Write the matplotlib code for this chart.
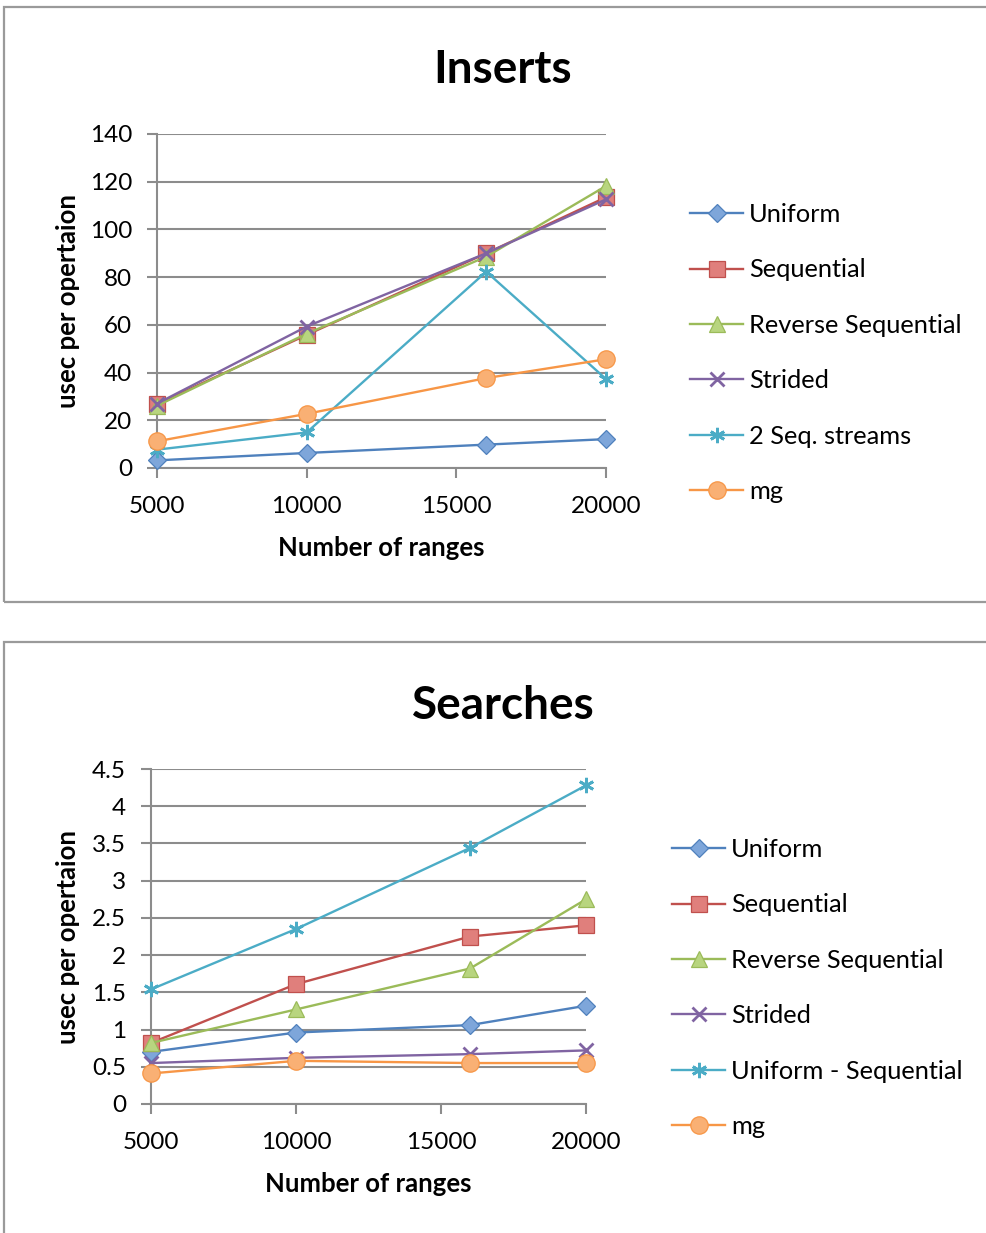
import matplotlib
matplotlib.use("Agg")
import matplotlib.pyplot as plt
from matplotlib.patches import Rectangle

# ---- data -------------------------------------------------------------
ranges = [5000, 10000, 16000, 20000]
x_ticks = [5000, 10000, 15000, 20000]

insert_uniform = [3.2, 6.3, 9.8, 12.1]
insert_sequential = [26.8, 55.8, 90.0, 113.5]
insert_reverse_seq = [26.1, 56.3, 88.6, 118.2]
insert_strided = [27.0, 59.3, 90.0, 112.6]
insert_two_streams = [7.7, 14.9, 82.3, 37.3]
insert_mg = [11.2, 22.7, 37.7, 45.6]

search_uniform = [0.70, 0.96, 1.06, 1.32]
search_sequential = [0.82, 1.61, 2.25, 2.40]
search_reverse_seq = [0.82, 1.27, 1.82, 2.75]
search_strided = [0.55, 0.62, 0.67, 0.72]
search_uniform_minus_seq = [1.54, 2.35, 3.44, 4.28]
search_mg = [0.41, 0.58, 0.55, 0.55]

insert_labels = ["Uniform", "Sequential", "Reverse Sequential", "Strided",
                 "2 Seq. streams", "mg"]
search_labels = ["Uniform", "Sequential", "Reverse Sequential", "Strided",
                 "Uniform - Sequential", "mg"]

insert_yticks = [0, 20, 40, 60, 80, 100, 120, 140]
search_yticks = [0, 0.5, 1, 1.5, 2, 2.5, 3, 3.5, 4, 4.5]
search_yticklabels = ["0", "0.5", "1", "1.5", "2", "2.5", "3", "3.5", "4", "4.5"]

# ---- styling ----------------------------------------------------------
plt.rcParams["font.family"] = ["Lato", "DejaVu Sans"]

W, H = 986, 1233
DPI = 100
GRID = "#8c8c8c"
FRAME = "#9a9a9a"

# (line colour, marker face, marker, size)
styles = [
    ("#4F81BD", "#7EA6DA", "D", 9.5),
    ("#C0504D", "#E07F7C", "s", 11),
    ("#9BBB59", "#B8D57F", "^", 11.5),
    ("#8064A2", "#A58BC6", "x", 10),
    ("#4BACC6", "#86CDE0", (6, 2, 0), 11),
    ("#F79646", "#F9B074", "o", 12.5),
]

fig = plt.figure(figsize=(W / DPI, H / DPI), dpi=DPI)


def px_axes(left, top, right, bottom):
    return fig.add_axes([left / W, 1 - bottom / H, (right - left) / W,
                         (bottom - top) / H])


def frame(left, top, right, bottom):
    fig.patches.append(Rectangle((left / W, 1 - bottom / H),
                                 (right - left) / W, (bottom - top) / H,
                                 transform=fig.transFigure, fill=False,
                                 edgecolor=FRAME, linewidth=1.6, zorder=0))


def draw_chart(ax, series, labels, yticks, yticklabels, ylim, title,
               title_xy, legend_xy, xlabel_top, ylabel_right):
    for vals, lab, (col, face, mk, ms) in zip(series, labels, styles):
        lw_mk = 2.0 if mk in ("x",) or isinstance(mk, tuple) else 0.9
        ax.plot(ranges, vals, color=col, linewidth=1.7, marker=mk,
                markersize=ms, markerfacecolor=face,
                markeredgecolor=col, markeredgewidth=lw_mk, label=lab,
                clip_on=False, zorder=3)
    ax.set_xlim(5000, 20000)
    ax.set_ylim(*ylim)
    ax.set_xticks(x_ticks)
    ax.set_xticklabels([str(t) for t in x_ticks])
    ax.set_yticks(yticks)
    ax.set_yticklabels(yticklabels)
    ax.grid(axis="y", color=GRID, linewidth=1.5)
    ax.set_axisbelow(True)
    for s in ("top", "right"):
        ax.spines[s].set_visible(False)
    for s in ("left", "bottom"):
        ax.spines[s].set_color(GRID)
        ax.spines[s].set_linewidth(1.5)
    ax.tick_params(axis="both", colors=GRID, width=1.5, length=7,
                   labelsize=17.5, labelcolor="black")
    ax.tick_params(axis="y", pad=11)
    ax.tick_params(axis="x", pad=13)
    ax.set_xlabel("Number of ranges", fontsize=18.5, fontweight="bold")
    ax.set_ylabel("usec per opertaion", fontsize=18.5, fontweight="bold")
    bb = ax.get_position()
    ax.xaxis.set_label_coords(0.5, (1 - xlabel_top / H - bb.y0) / bb.height)
    ax.yaxis.set_label_coords((ylabel_right / W - bb.x0) / bb.width, 0.5)
    fig.text(title_xy[0] / W, 1 - title_xy[1] / H, title, fontsize=33,
             fontweight="bold", ha="center", va="center")
    ax.legend(loc="upper left",
              bbox_to_anchor=(legend_xy[0] / W, 1 - legend_xy[1] / H),
              bbox_transform=fig.transFigure, frameon=False, fontsize=18.3,
              handlelength=2.1, handletextpad=0.23, labelspacing=1.275,
              borderpad=0, borderaxespad=0)


# Inserts chart
frame(4, 7, W + 10, 602)
ax1 = px_axes(157, 134, 606, 468)
draw_chart(ax1,
           [insert_uniform, insert_sequential, insert_reverse_seq,
            insert_strided, insert_two_streams, insert_mg],
           insert_labels, insert_yticks, [str(t) for t in insert_yticks],
           (0, 140), "Inserts", (503, 70), (690, 203), 536, 80)

# Searches chart
frame(4, 642, W + 10, H + 10)
ax2 = px_axes(151, 769, 586, 1104)
draw_chart(ax2,
           [search_uniform, search_sequential, search_reverse_seq,
            search_strided, search_uniform_minus_seq, search_mg],
           search_labels, search_yticks, search_yticklabels,
           (0, 4.5), "Searches", (503, 706), (672, 838), 1172, 80)

fig.savefig("out.png", dpi=DPI)
